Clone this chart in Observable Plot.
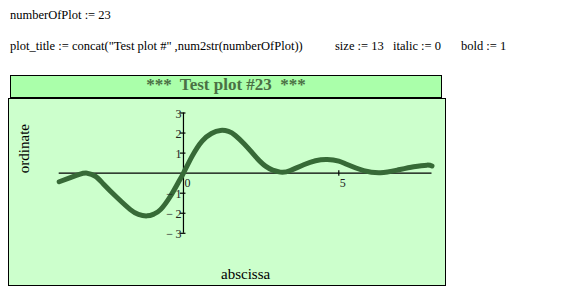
<!DOCTYPE html>
<html>
<head>
<meta charset="utf-8">
<script src="https://cdn.jsdelivr.net/npm/d3@7"></script>
<script src="https://cdn.jsdelivr.net/npm/@observablehq/plot@0.6"></script>
<style>
  html, body { margin: 0; padding: 0; background: #fff; }
  body { width: 565px; height: 295px; position: relative; overflow: hidden; font-family: "Liberation Serif", "DejaVu Serif", serif; }
  .t { position: absolute; font-family: "Liberation Serif", serif; font-size: 12.5px; line-height: 1; white-space: pre; color: #000; }
  #titlebox { position: absolute; left: 10px; top: 75px; width: 432px; height: 23px; box-sizing: border-box; background: #aaffaa; border: 1px solid #000; }
  #titletext { position: absolute; left: 10px; width: 432px; top: 76px; text-align: center; font-family: "Liberation Serif", serif; font-size: 17px; font-weight: bold; line-height: 1; white-space: pre; color: #4a7044; }
  #plotwrap { position: absolute; left: 8px; top: 98px; width: 437px; height: 187px; background: #ccffcc; }
  #plotframe { position: absolute; left: 8px; top: 98px; width: 438px; height: 188px; box-sizing: border-box; border: 1.5px solid #000; }
  #plotwrap svg { position: absolute; left: 0; top: 0; }
</style>
</head>
<body>
<div class="t" style="left:10px; top:9px;">numberOfPlot := 23</div>
<div class="t" style="left:10px; top:39.5px;">plot_title := concat("Test plot #" ,num2str(numberOfPlot))</div>
<div class="t" style="left:335px; top:39.5px;">size := 13</div>
<div class="t" style="left:393px; top:39.5px;">italic := 0</div>
<div class="t" style="left:461px; top:39.5px;">bold := 1</div>
<div id="titlebox"></div>
<div id="titletext">***  Test plot #23  ***</div>
<div id="plotwrap"></div>
<div id="plotframe"></div>
<script>
// Curve
const curveX = [-4, -3.64, -3.35, -3.10, -2.83, -2.57, -2.13, -1.71, -1.45, -1.17, -0.95, -0.74, -0.42, -0.15, 0, 0.28, 0.60, 0.90, 1.19, 1.45, 1.67, 1.95, 2.21, 2.64, 3.12, 3.44, 3.87, 4.25, 4.63, 5.0, 5.27, 5.80, 6.34, 6.88, 7.41, 7.84, 8.0];
const curveY = [-0.43, -0.22, -0.06, 0.0, -0.16, -0.55, -1.23, -1.82, -2.06, -2.13, -2.04, -1.82, -1.15, -0.42, 0, 0.85, 1.6, 1.98, 2.13, 2.08, 1.88, 1.47, 1.02, 0.35, 0.05, 0.13, 0.42, 0.62, 0.68, 0.6, 0.43, 0.13, 0.02, 0.15, 0.32, 0.40, 0.36];
const xTicks = [0, 5];
const xTickLabels = ["0", "5"];
const yTicks = [3, 2, 1, -1, -2, -3];
const yTickLabels = ["3", "2", "1", "\u2212\u20091", "\u2212\u20092", "\u2212\u20093"];
const xLabel = "abscissa";
const yLabel = "ordinate";
const xDomain = [-4, 8];
const yDomain = [-3, 3];

const curve = curveX.map((x, i) => ({x, y: curveY[i]}));
const xt = xTicks.map((x, i) => ({x, label: xTickLabels[i]}));
const yt = yTicks.map((y, i) => ({y, label: yTickLabels[i]}));

const chart = Plot.plot({
  width: 437,
  height: 187,
  marginLeft: 50.7,
  marginRight: 13.5,
  marginTop: 14.5,
  marginBottom: 52.2,
  style: { background: "transparent", fontFamily: "Liberation Serif, serif", color: "#000", overflow: "visible" },
  x: { domain: xDomain, axis: null },
  y: { domain: yDomain, axis: null },
  marks: [
    Plot.ruleY([0], { x1: xDomain[0], x2: xDomain[1], stroke: "#000", strokeWidth: 1.2 }),
    Plot.ruleX([0], { y1: yDomain[0], y2: yDomain[1], stroke: "#000", strokeWidth: 1.2 }),
    Plot.ruleY(yt, { y: "y", x1: -0.1, x2: 0.08, stroke: "#000", strokeWidth: 1.2 }),
    Plot.ruleX(xt.filter(d => d.x !== 0), { x: "x", y1: -0.16, y2: 0.12, stroke: "#000", strokeWidth: 1.2 }),
    Plot.line(curve, { x: "x", y: "y", stroke: "#376a37", strokeWidth: 5, curve: "natural" }),
    Plot.text(yt, { x: 0, y: "y", text: "label", textAnchor: "end", dx: -2, dy: 1, fontSize: 12, fill: "#222" }),
    Plot.text(xt, { x: "x", y: 0, text: "label", dx: 4, dy: 10, fontSize: 12, fill: "#222" }),
    Plot.text([yLabel], { frameAnchor: "left", rotate: -90, dx: -34.7, fontSize: 15, fill: "#000" }),
    Plot.text([xLabel], { frameAnchor: "bottom", lineAnchor: "bottom", dy: 45.2, fontSize: 15, fill: "#000" })
  ]
});
document.getElementById("plotwrap").appendChild(chart);
</script>
</body>
</html>
